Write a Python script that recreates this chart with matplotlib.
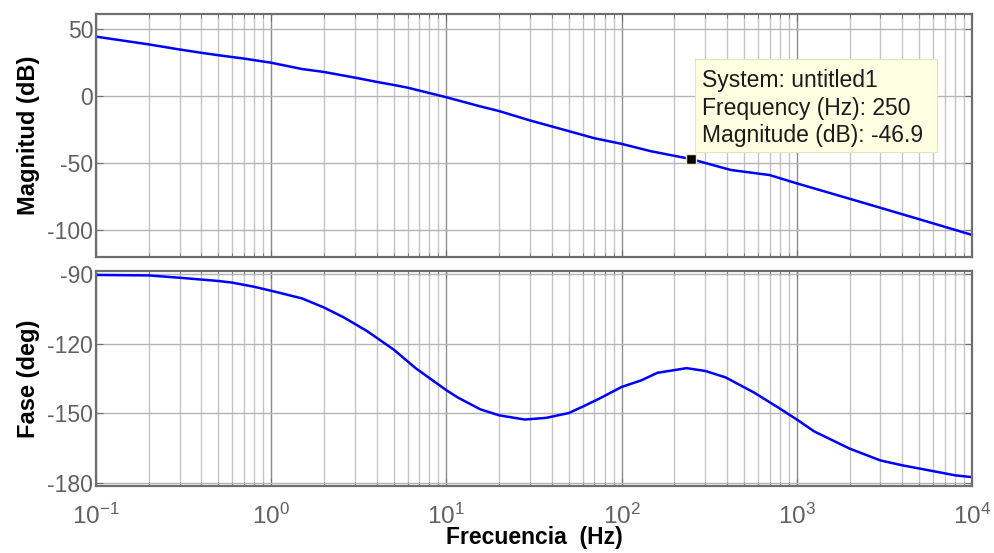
import numpy as np
import matplotlib
matplotlib.use('Agg')
import matplotlib.pyplot as plt
from matplotlib.ticker import LogLocator, FixedLocator, NullFormatter
from matplotlib.patches import Rectangle

plt.rcParams['font.family'] = ['Liberation Sans', 'DejaVu Sans']
plt.rcParams['mathtext.fontset'] = 'custom'
plt.rcParams['mathtext.rm'] = 'Liberation Sans'
plt.rcParams['mathtext.it'] = 'Liberation Sans'

# Magnitude curve (Hz, dB)
mag_freq = [0.1, 0.2, 0.3, 0.4, 0.5, 0.7, 1, 1.5, 2, 3, 4, 5, 6, 10, 15.6, 20,
            30, 40, 50, 70, 100, 147, 250, 420, 700, 1000, 2300, 5000, 10000]
mag_db = [44.6, 38.8, 35.0, 32.5, 30.7, 28.2, 25.1, 20.4, 18.2, 14.0, 10.8, 8.5,
          6.5, -0.7, -7.5, -11.0, -18.0, -22.5, -26.0, -31.3, -35.5, -41.0,
          -46.9, -55.0, -58.8, -65.0, -78.8, -91.8, -103.5]

# Phase curve (Hz, deg)
ph_freq = [0.1, 0.2, 0.3, 0.5, 0.6, 0.8, 1, 1.5, 2, 2.6, 3.5, 5, 6.7, 10, 11.6,
           15.6, 20, 28, 37, 50, 61, 76, 100, 130, 160, 235, 300, 393, 570,
           774, 1000, 1256, 2000, 3000, 4000, 6000, 8000, 10000]
ph_deg = [-90.4, -90.6, -91.6, -93.0, -93.7, -95.5, -97.2, -100.5, -104.4,
          -108.7, -114.4, -122.5, -130.6, -140.0, -143.1, -148.2, -150.8,
          -152.6, -151.9, -149.8, -146.8, -143.3, -138.6, -135.7, -132.5,
          -130.5, -131.7, -134.5, -141.0, -147.2, -152.6, -157.7, -165.1,
          -170.2, -172.3, -174.8, -176.6, -177.4]

# data tip
tip_f = 250
tip_db = -46.9
tip_lines = ['System: untitled1', 'Frequency (Hz): 250', 'Magnitude (dB): -46.9']

xticks = [0.1, 1, 10, 100, 1000, 10000]
xticklabels = [r'$10^{-1}$', r'$10^{0}$', r'$10^{1}$', r'$10^{2}$', r'$10^{3}$', r'$10^{4}$']

fig = plt.figure(figsize=(9.95, 5.53), dpi=100)
ax1 = fig.add_axes([96/995, 1-257/553, 876/995, 243/553])
ax2 = fig.add_axes([96/995, 1-486/553, 876/995, 215/553])

tick_col = '#606060'
for ax in (ax1, ax2):
    ax.set_xscale('log')
    ax.set_xlim(0.1, 10000)
    ax.xaxis.set_major_locator(FixedLocator(xticks))
    ax.xaxis.set_minor_locator(LogLocator(base=10, subs=np.arange(2, 10), numticks=20))
    ax.xaxis.set_minor_formatter(NullFormatter())
    ax.grid(True, which='major', axis='x', color='#8c8c8c', lw=1.0)
    ax.grid(True, which='minor', axis='x', color='#c4c4c4', lw=1.0)
    ax.grid(True, which='major', axis='y', color='#b4b4b4', lw=1.0)
    ax.set_axisbelow(True)
    ax.tick_params(which='both', direction='in', top=True, right=True,
                   colors='#6e6e6e', labelcolor=tick_col, labelsize=16.5)
    ax.tick_params(which='major', length=5, pad=2)
    ax.tick_params(which='minor', length=3)
    for s in ax.spines.values():
        s.set_color('#6e6e6e')
        s.set_linewidth(1.6)

ax1.plot(mag_freq, mag_db, color='#0000ff', lw=1.8)
ax1.set_ylim(-120, 61.5)
ax1.set_yticks([-100, -50, 0, 50])
ax1.set_yticklabels(['-100', '-50', '0', '50'])
ax1.set_xticklabels([])
ax1.set_ylabel('Magnitud (dB)', fontsize=17, fontweight='bold', labelpad=5)

ax1.plot([tip_f], [tip_db], marker='s', ms=7, mfc='black', mec='#f0f0b0', mew=1, zorder=5)
ax1.add_patch(Rectangle((0.684, 0.432), 0.276, 0.383, transform=ax1.transAxes,
                        fc='#ffffe1', ec='#e2e2c4', lw=0.8, zorder=6))
for line, yb in zip(tip_lines, [0.701, 0.584, 0.474]):
    ax1.text(0.692, yb, line, fontsize=16.5, color='#1a1a1a', va='baseline',
             ha='left', transform=ax1.transAxes, zorder=7)

ax2.plot(ph_freq, ph_deg, color='#0000ff', lw=1.8)
ax2.set_ylim(-181.2, -88.7)
ax2.set_yticks([-180, -150, -120, -90])
ax2.set_yticklabels(['-180', '-150', '-120', '-90'])
ax2.set_xticklabels(xticklabels)
ax2.tick_params(axis='x', pad=13, labelsize=17.5)
ax2.set_ylabel('Fase (deg)', fontsize=17, fontweight='bold', labelpad=5)
ax2.set_xlabel('Frecuencia  (Hz)', fontsize=16.5, fontweight='bold', labelpad=-2)

fig.savefig('out.png', dpi=100)
